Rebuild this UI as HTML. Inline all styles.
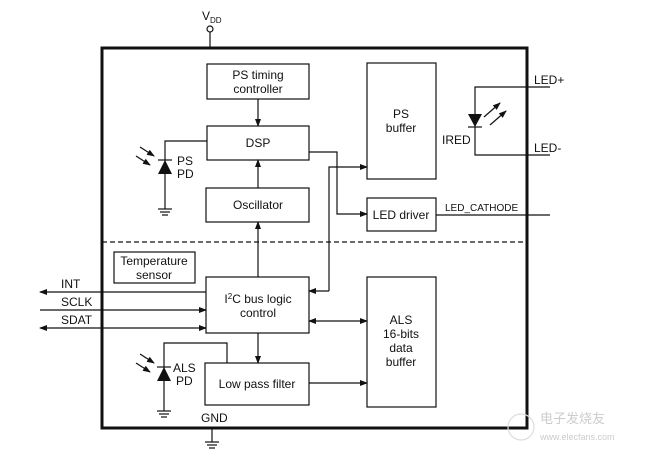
<!DOCTYPE html>
<html><head><meta charset="utf-8"><style>
html,body{margin:0;padding:0;background:#fff;}
svg{display:block;font-family:"Liberation Sans",Arial,sans-serif;}
</style></head><body>
<svg width="646" height="456" viewBox="0 0 646 456" xmlns="http://www.w3.org/2000/svg">
<defs>
<marker id="a" markerWidth="8" markerHeight="8" refX="7" refY="4" orient="auto" markerUnits="userSpaceOnUse">
<path d="M0,1 L8,4 L0,7 Z" fill="#111"/></marker>
<marker id="b" markerWidth="8" markerHeight="8" refX="1" refY="4" orient="auto" markerUnits="userSpaceOnUse">
<path d="M8,1 L0,4 L8,7 Z" fill="#111"/></marker>
</defs>
<g fill="none" stroke="#111" stroke-width="1.2">
<!-- main box -->
<rect x="102" y="48" width="425" height="380" stroke-width="3"/>
<line x1="102" y1="242" x2="527" y2="242" stroke-dasharray="5,3"/>
<!-- VDD -->
<line x1="210" y1="32" x2="210" y2="48"/>
<circle cx="210" cy="29" r="3" fill="#fff"/>
<!-- GND -->
<line x1="212" y1="428" x2="212" y2="442"/>
<line x1="205" y1="442" x2="219" y2="442"/><line x1="207" y1="445" x2="217" y2="445"/><line x1="209" y1="448" x2="215" y2="448"/>
<!-- boxes -->
<rect x="207" y="64" width="102" height="35"/>
<rect x="207" y="126" width="102" height="34"/>
<rect x="206" y="188" width="103" height="34"/>
<rect x="367" y="63" width="69" height="116"/>
<rect x="367" y="198" width="69" height="33"/>
<rect x="114" y="252" width="81" height="31"/>
<rect x="206" y="277" width="103" height="56"/>
<rect x="205" y="363" width="104" height="42"/>
<rect x="367" y="277" width="69" height="130"/>
<!-- arrows -->
<line x1="258" y1="99" x2="258" y2="126" marker-end="url(#a)"/>
<line x1="258" y1="188" x2="258" y2="160" marker-end="url(#a)"/>
<line x1="258" y1="277" x2="258" y2="222" marker-end="url(#a)"/>
<line x1="258" y1="333" x2="258" y2="363" marker-end="url(#a)"/>
<polyline points="309,152 337,152 337,214 367,214" marker-end="url(#a)"/>
<polyline points="329,291 329,167 367,167" marker-end="url(#a)"/>
<line x1="329" y1="291" x2="309" y2="291" marker-end="url(#a)"/>
<line x1="309" y1="321" x2="367" y2="321" marker-start="url(#b)" marker-end="url(#a)"/>
<line x1="309" y1="383" x2="367" y2="383" marker-end="url(#a)"/>
<line x1="206" y1="292" x2="40" y2="292" marker-end="url(#a)"/>
<line x1="40" y1="310" x2="206" y2="310" marker-end="url(#a)"/>
<line x1="40" y1="328" x2="206" y2="328" marker-start="url(#b)" marker-end="url(#a)"/>
<!-- PS PD -->
<polyline points="207,141 165,141 165,209"/>
<line x1="158" y1="160" x2="172" y2="160"/>
<line x1="158" y1="209" x2="172" y2="209"/><line x1="160" y1="212" x2="170" y2="212"/><line x1="162" y1="215" x2="168" y2="215"/>
<line x1="140" y1="147" x2="154" y2="156" marker-end="url(#a)"/>
<line x1="136" y1="156" x2="150" y2="165" marker-end="url(#a)"/>
<!-- ALS PD -->
<polyline points="227,363 227,343 164,343 164,411"/>
<line x1="157" y1="367" x2="171" y2="367"/>
<line x1="157" y1="411" x2="171" y2="411"/><line x1="159" y1="414" x2="169" y2="414"/><line x1="161" y1="417" x2="167" y2="417"/>
<line x1="140" y1="354" x2="154" y2="363" marker-end="url(#a)"/>
<line x1="136" y1="363" x2="150" y2="372" marker-end="url(#a)"/>
<!-- IRED -->
<polyline points="550,87 475,87 475,155 550,155"/>
<line x1="468" y1="127" x2="482" y2="127"/>
<line x1="484" y1="117" x2="500" y2="103" marker-end="url(#a)"/>
<line x1="490" y1="125" x2="506" y2="111" marker-end="url(#a)"/>
<line x1="436" y1="215" x2="550" y2="215"/>
</g>
<g fill="#111">
<path d="M158,174 L172,174 L165,160 Z"/>
<path d="M157,381 L171,381 L164,367 Z"/>
<path d="M468,114 L482,114 L475,127 Z"/>
</g>
<g font-size="12" fill="#111" text-anchor="middle">
<text x="258" y="79">PS timing</text><text x="258" y="93">controller</text>
<text x="258" y="147">DSP</text>
<text x="258" y="209">Oscillator</text>
<text x="401" y="118">PS</text><text x="401" y="132">buffer</text>
<text x="401" y="219">LED driver</text>
<text x="154" y="265">Temperature</text><text x="154" y="279">sensor</text>
<text x="258" y="303">I<tspan font-size="8" dy="-4">2</tspan><tspan dy="4">C bus logic</tspan></text>
<text x="258" y="317">control</text>
<text x="257" y="388">Low pass filter</text>
<text x="401" y="324">ALS</text><text x="401" y="338">16-bits</text><text x="401" y="352">data</text><text x="401" y="366">buffer</text>
</g>
<g font-size="12" fill="#111">
<text x="202" y="20">V<tspan font-size="8" dy="3">DD</tspan></text>
<text x="177" y="165">PS</text><text x="177" y="178">PD</text>
<text x="173" y="372">ALS</text><text x="176" y="385">PD</text>
<text x="201" y="422">GND</text>
<text x="61" y="288">INT</text><text x="61" y="306">SCLK</text><text x="61" y="324">SDAT</text>
<text x="534" y="84">LED+</text><text x="534" y="152">LED-</text>
<text x="442" y="144">IRED</text>
<text x="445" y="211" font-size="10">LED_CATHODE</text>
</g>
<g fill="#ccc" font-size="13">
<text x="540" y="423" font-family="'Noto Sans CJK SC',sans-serif">电子发烧友</text>
<text x="540" y="440" font-size="9">www.elecfans.com</text>
</g>
<circle cx="521" cy="427" r="13" fill="none" stroke="#ddd" stroke-width="1.2"/>
</svg>
</body></html>
